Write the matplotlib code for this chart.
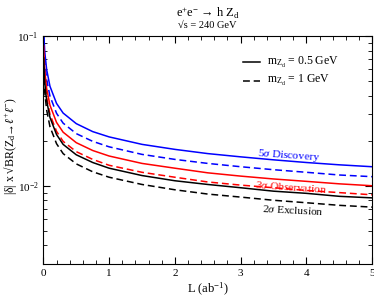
import matplotlib

matplotlib.use("Agg")
import matplotlib.pyplot as plt  # noqa: E402
from matplotlib.ticker import MultipleLocator  # noqa: E402

plt.rcParams["font.family"] = ["Liberation Serif", "DejaVu Serif"]
plt.rcParams["mathtext.fontset"] = "custom"
plt.rcParams["mathtext.rm"] = "Liberation Serif"
plt.rcParams["mathtext.it"] = "Liberation Serif:italic"

lumi = [0.005, 0.01, 0.02, 0.05, 0.1, 0.2, 0.3, 0.5, 0.75,
        1, 1.5, 2, 2.5, 3, 3.5, 4, 4.5, 5]

disc_05 = [0.1152, 0.0965, 0.0791, 0.0596, 0.0462, 0.0355, 0.0306, 0.0260, 0.0230,
           0.0212, 0.0189, 0.0175, 0.0164, 0.0156, 0.0149, 0.0143, 0.0138, 0.0134]
disc_1 = [0.0989, 0.0828, 0.0679, 0.0512, 0.0397, 0.0305, 0.0262, 0.0223, 0.0198,
          0.0182, 0.0162, 0.0150, 0.0141, 0.0134, 0.0128, 0.0123, 0.0118, 0.0115]
obs_05 = [0.0860, 0.0720, 0.0590, 0.0445, 0.0345, 0.0265, 0.0228, 0.0194, 0.0172,
          0.0158, 0.0141, 0.0131, 0.0122, 0.0116, 0.0111, 0.0107, 0.0103, 0.0100]
obs_1 = [0.0748, 0.0626, 0.0513, 0.0387, 0.0300, 0.0231, 0.0198, 0.0169, 0.0150,
         0.0137, 0.0123, 0.0114, 0.0106, 0.0101, 0.0097, 0.0093, 0.0090, 0.0087]
excl_05 = [0.0714, 0.0598, 0.0490, 0.0369, 0.0286, 0.0220, 0.0189, 0.0161, 0.0143,
           0.0131, 0.0117, 0.0108, 0.0102, 0.0097, 0.0092, 0.0089, 0.0085, 0.0083]
excl_1 = [0.0619, 0.0518, 0.0425, 0.0320, 0.0248, 0.0191, 0.0164, 0.0140, 0.0124,
          0.0114, 0.0102, 0.0094, 0.0088, 0.0084, 0.0080, 0.0077, 0.0074, 0.0072]

fig = plt.figure(figsize=(3.74, 2.98), dpi=100)
ax = fig.add_axes([0.116, 0.114, 0.879, 0.765])

lw = 1.1
dash = (0, (4.5, 2.5))
ax.plot(lumi, disc_05, color="#0000ff", lw=lw)
ax.plot(lumi, disc_1, color="#0000ff", lw=lw, ls=dash)
ax.plot(lumi, obs_05, color="#ff0000", lw=lw)
ax.plot(lumi, obs_1, color="#ff0000", lw=lw, ls=dash)
ax.plot(lumi, excl_05, color="k", lw=lw)
ax.plot(lumi, excl_1, color="k", lw=lw, ls=dash)

ax.set_yscale("log")
ax.set_xlim(0, 5)
ax.set_ylim(0.003, 0.1)
ax.xaxis.set_major_locator(MultipleLocator(1))
ax.xaxis.set_minor_locator(MultipleLocator(0.2))
ax.tick_params(which="both", direction="in", top=True, right=True, labelsize=8)
ax.tick_params(which="major", length=5)
ax.tick_params(which="minor", length=3)

ax.text(3.74, 0.0158, r"5$\sigma$ Discovery", color="#0000ff", fontsize=8.2,
        ha="center", va="center", rotation=-4)
ax.text(3.76, 0.00975, r"3$\sigma$ Observation", color="#ff0000", fontsize=8.2,
        ha="center", va="center", rotation=-4)
ax.text(3.79, 0.0069, r"2$\sigma$ Exclusion", color="k", fontsize=8.2,
        ha="center", va="center", rotation=-3)

# legend drawn by hand as in the original
ax.plot([3.03, 3.3], [0.0667, 0.0667], color="k", lw=lw)
ax.plot([3.03, 3.3], [0.0504, 0.0504], color="k", lw=lw, ls=dash)
ax.text(3.4, 0.0667, r"m$_{\mathrm{Z_d}}$ = 0.5 GeV", fontsize=8.5, va="center")
ax.text(3.4, 0.0504, r"m$_{\mathrm{Z_d}}$ = 1 GeV", fontsize=8.5, va="center")

ax.set_xlabel(r"L (ab$^{-1}$)", fontsize=9, labelpad=2)
fig.text(11 / 374, 1 - 146 / 298,
         "|δ| x √BR(Z$_{\\mathrm{d}}$→$\\ell^{+}\\ell^{-}$)",
         fontsize=8.5, rotation=90, ha="center", va="center")

fig.text(0.555, 0.957, "e$^{+}$e$^{-}$ → h Z$_{\\mathrm{d}}$", fontsize=9,
         ha="center", va="center")
fig.text(0.555, 0.913, "√s = 240 GeV", fontsize=7.5, ha="center", va="center")

fig.savefig("out.png", dpi=100)
plt.close(fig)
